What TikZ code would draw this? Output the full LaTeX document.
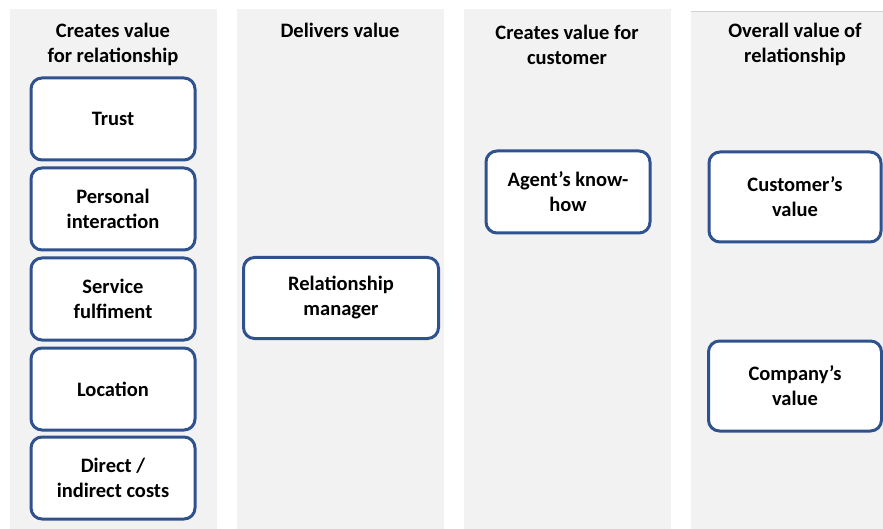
\documentclass[tikz,border=0pt]{standalone}
\usepackage{fontspec}
\setmainfont{Carlito}
\begin{document}
\begin{tikzpicture}[x=1pt,y=-1pt,
  col/.style={fill=colgray,draw=none},
  hdr/.style={font=\bfseries\fontsize{20.5}{25}\selectfont,align=center,text=black},
  vbox/.style={draw=boxblue,line width=3pt,fill=white,rounded corners=11pt,
     font=\bfseries\fontsize{20.5}{25}\selectfont,align=center,text=black}]
\definecolor{colgray}{HTML}{F2F2F2}
\definecolor{boxblue}{HTML}{2F528F}
\useasboundingbox (0,0) rectangle (883,529);
\fill[white] (0,0) rectangle (883,529);
% columns
\fill[col] (10,9) rectangle (217,529);
\fill[col] (237,9) rectangle (444,529);
\fill[col] (464,9) rectangle (671,529);
\fill[col] (691,11) rectangle (883,529);
\draw[line width=0.6pt,draw=black!18] (691,11) -- (883,11);
% headers
\node[hdr] (h1) at (113,44.5) {Creates value\\for relationship};
\node[hdr] (h2) at (340,30.5) {Delivers value};
\node[hdr] (h3) at (567,44.5) {Creates value for\\customer};
\node[hdr] (h4) at (795,44.5) {Overall value of\\relationship};
% column 1
\node[vbox,minimum width=164pt,minimum height=82pt] (trust) at (113,119) {Trust};
\node[vbox,minimum width=164pt,minimum height=82pt] (pers) at (113,209) {Personal\\interaction};
\node[vbox,minimum width=164pt,minimum height=82pt] (serv) at (113,299) {Service\\fulfiment};
\node[vbox,minimum width=164pt,minimum height=82pt] (loc) at (113,389) {Location};
\node[vbox,minimum width=164pt,minimum height=82pt] (cost) at (113,478) {Direct /\\indirect costs};
% column 2
\node[vbox,minimum width=195pt,minimum height=81pt] (rm) at (341,298) {Relationship\\manager};
% column 3
\node[vbox,minimum width=164pt,minimum height=82pt] (agent) at (568,192) {Agent’s know-\\how};
% column 4
\node[vbox,minimum width=172pt,minimum height=90pt] (cust) at (795,197) {Customer’s\\value};
\node[vbox,minimum width=173pt,minimum height=90pt] (comp) at (795,386) {Company’s\\value};
\end{tikzpicture}
\end{document}
